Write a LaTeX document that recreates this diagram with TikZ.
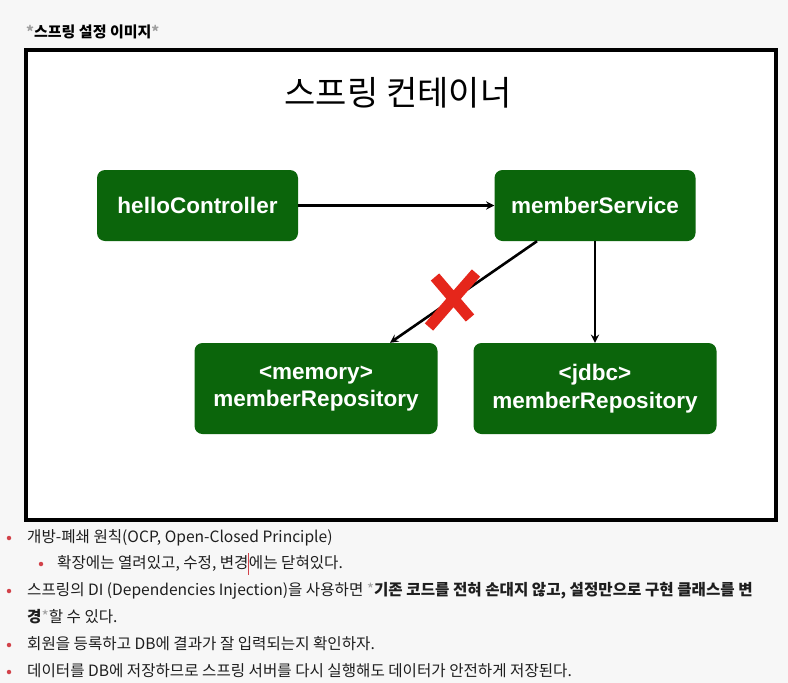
\documentclass[tikz,border=0pt]{standalone}
\usepackage{fontspec}
\setmainfont{Liberation Sans}
\newfontfamily\kr{Noto Sans CJK KR}
\definecolor{pagegray}{HTML}{F7F7F7}
\definecolor{boxgreen}{HTML}{0B650B}
\definecolor{crossred}{HTML}{E5261B}
\definecolor{dotred}{HTML}{D2424A}
\definecolor{stargray}{HTML}{A0A0A0}
\definecolor{textgray}{HTML}{1E1E1E}
\tikzset{
  comp/.style={fill=boxgreen, rounded corners=8pt, text=white, align=center,
    font=\bfseries\fontsize{22.5}{27.5}\selectfont, minimum width=201pt, minimum height=71pt},
  repo/.style={comp, minimum width=243pt, minimum height=91pt},
  link/.style={->, line width=2.6pt},
  dot/.style={circle, fill=dotred, inner sep=0pt, minimum size=4.5pt},
  line/.style={anchor=west, inner sep=0pt, text=textgray, text height=11pt, text depth=3pt,
    font=\kr\fontsize{15.6}{19}\selectfont},
}
\begin{document}
\begin{tikzpicture}[x=1pt,y=-1pt,>=stealth]
    \fill[pagegray](0,0)rectangle(788,683);
    \useasboundingbox(0,0)rectangle(788,683);
    \node[anchor=west,inner sep=0pt,font=\kr\bfseries\fontsize{15}{17}\selectfont](head)at(26,32)
      {\textcolor{stargray}{*}스프링 설정 이미지\textcolor{stargray}{*}};
    \draw[line width=4pt,fill=white](26,50)rectangle(776,520);
    \node[font=\kr\fontsize{34}{40}\selectfont](title)at(398,93){스프링 컨테이너};
    \node[comp](hello)at(197.5,205.5){helloController};
    \node[comp](service)at(595,205.5){memberService};
    \node[repo](memory)at(316,388.5){<memory>\\memberRepository};
    \node[repo](jdbc)at(595,388.5){<jdbc>\\memberRepository};
    \draw[link](hello)--(service);
    \draw[link](service)--(jdbc);
    \draw[link]([xshift=-58pt]service.south)--([xshift=74pt]memory.north);
    % the cut link
    \coordinate (X1) at (435,277);
    \coordinate (X2) at (470,318);
    \coordinate (X3) at (476,273);
    \coordinate (X4) at (429,327);
    \draw[crossred,line width=11pt](X1)--(X2) (X3)--(X4);
    % notes
    \node[dot](b1)at(9,538){};
    \node[line](t1)at(27,538){개방-폐쇄 원칙(OCP, Open-Closed Principle)};
    \node[dot](b2)at(41,564){};
    \node[line](t2)at(57,564){확장에는 열려있고, 수정, 변경};
    \node[line](t2b)at(t2.east){에는 닫혀있다.};
    \draw[dotred,line width=1pt](t2.east)+(0,-11)--+(0,11);
    \node[dot](b3)at(9,591){};
    \node[line](t3)at(27,591){스프링의 DI (Dependencies Injection)을 사용하면 \textcolor{stargray}{*}\textbf{기존 코드를 전혀 손대지 않고, 설정만으로 구현 클래스를 변}};
    \node[line](t4)at(27,618){\textbf{경}\textcolor{stargray}{*}할 수 있다.};
    \node[dot](b5)at(9,645){};
    \node[line](t5)at(27,645){회원을 등록하고 DB에 결과가 잘 입력되는지 확인하자.};
    \node[dot](b6)at(9,672){};
    \node[line](t6)at(27,672){데이터를 DB에 저장하므로 스프링 서버를 다시 실행해도 데이터가 안전하게 저장된다.};
\end{tikzpicture}
\end{document}
